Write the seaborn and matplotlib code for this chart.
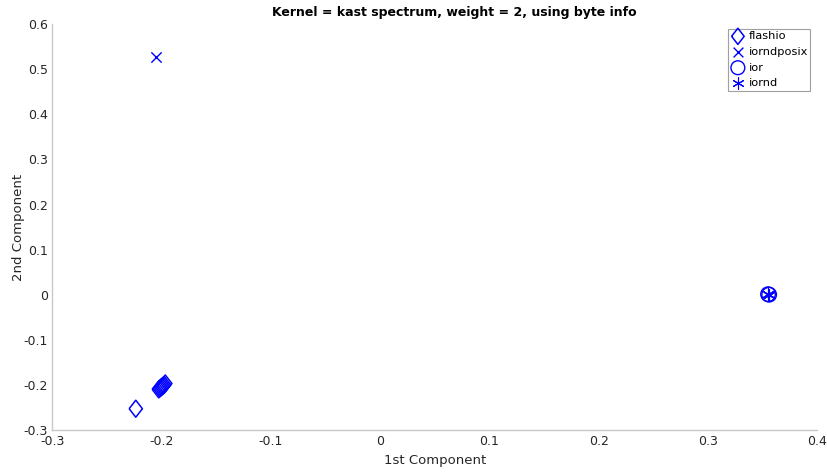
import numpy as np
import pandas as pd
import matplotlib
matplotlib.use("Agg")
import matplotlib.pyplot as plt
import seaborn as sns

# data
flashio_x = [-0.2235, -0.2025, -0.2015, -0.2005, -0.1995, -0.1985, -0.1975, -0.1965]
flashio_y = [-0.253, -0.210, -0.208, -0.206, -0.204, -0.202, -0.200, -0.197]
posix_x = [-0.205]
posix_y = [0.528]
ior_x = [0.355, 0.356]
ior_y = [0.001, 0.000]
iornd_x = [0.355, 0.356]
iornd_y = [0.001, 0.000]

x_ticks = [-0.3, -0.2, -0.1, 0, 0.1, 0.2, 0.3, 0.4]
y_ticks = [-0.3, -0.2, -0.1, 0, 0.1, 0.2, 0.3, 0.4, 0.5, 0.6]

sns.set_theme(style="white")
plt.rcParams['font.family'] = ['DejaVu Sans']
plt.rcParams['text.color'] = 'black'
plt.rcParams['axes.labelcolor'] = '#262626'
plt.rcParams['xtick.color'] = '#c8c8c8'
plt.rcParams['ytick.color'] = '#c8c8c8'
plt.rcParams['xtick.labelcolor'] = '#262626'
plt.rcParams['ytick.labelcolor'] = '#262626'

fig, ax = plt.subplots(figsize=(8.28, 4.74), dpi=100)
fig.subplots_adjust(left=0.063, right=0.987, top=0.949, bottom=0.093)

blue = '#0000ff'
diamond = [(-0.78, 0), (0, 1), (0.78, 0), (0, -1), (-0.78, 0)]
sns.scatterplot(x=flashio_x, y=flashio_y, marker=diamond, s=150, facecolor='none',
                edgecolor=blue, linewidth=1.1, label='flashio', ax=ax)
sns.scatterplot(x=posix_x, y=posix_y, marker='x', s=55, color=blue,
                linewidth=1.0, label='iorndposix', ax=ax)
sns.scatterplot(x=ior_x, y=ior_y, marker='o', s=110, facecolor='none',
                edgecolor=blue, linewidth=1.0, label='ior', ax=ax)
sns.scatterplot(x=iornd_x, y=iornd_y, marker=(6, 2, 0), s=75, color=blue,
                linewidth=0.8, label='iornd', ax=ax)

ax.set_xlim(-0.3, 0.4)
ax.set_ylim(-0.3, 0.6)
ax.set_xticks(x_ticks)
ax.set_xticklabels([f'{v:g}' for v in x_ticks])
ax.set_yticks(y_ticks)
ax.set_yticklabels([f'{v:g}' for v in y_ticks])
ax.tick_params(labelsize=9, length=3, width=0.8, direction='in', pad=3)
ax.tick_params(axis='x', pad=4)
for side in ['top', 'right']:
    ax.spines[side].set_visible(False)
for side in ['left', 'bottom']:
    ax.spines[side].set_color('#c8c8c8')
    ax.spines[side].set_linewidth(1.0)

ax.set_xlabel('1st Component', fontsize=9.5, labelpad=4)
ax.set_ylabel('2nd Component', fontsize=9.5, labelpad=-1)
ax.set_title('Kernel = kast spectrum, weight = 2, using byte info',
             fontsize=9, fontweight='bold', pad=6, x=0.525, color='black')

leg = ax.legend(loc='upper right', bbox_to_anchor=(0.991, 0.988), fontsize=8.2,
                frameon=True, fancybox=False, borderpad=0.2, labelspacing=0.5,
                handletextpad=0.3, handlelength=1.3, borderaxespad=0.0,
                markerscale=0.95)
leg.get_frame().set_edgecolor('#888888')
leg.get_frame().set_linewidth(0.8)

fig.savefig('out.png', dpi=100)
